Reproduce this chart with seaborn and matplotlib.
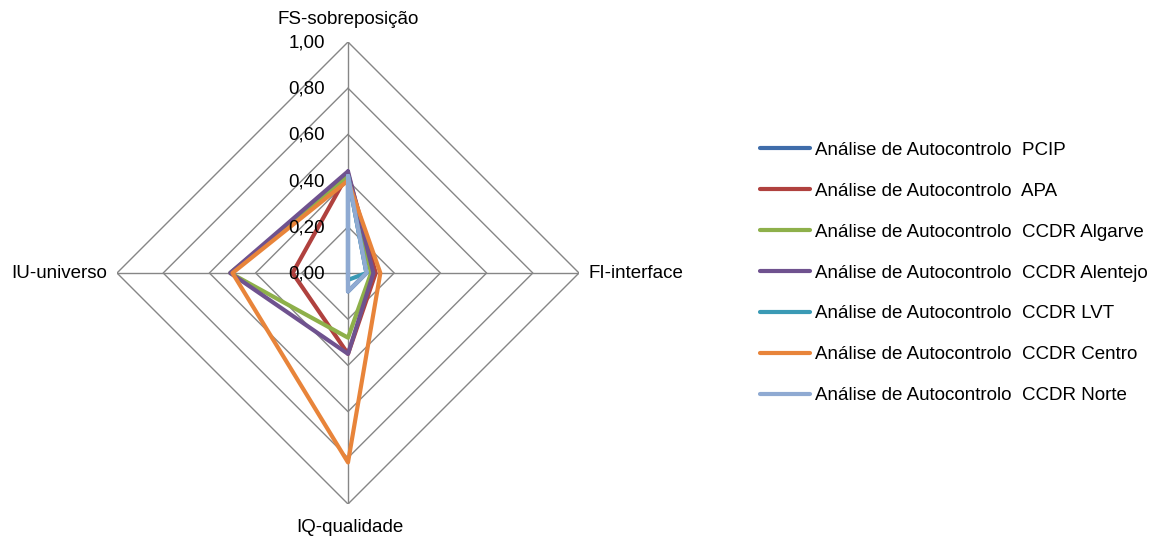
import numpy as np
import pandas as pd
import matplotlib
matplotlib.use("Agg")
import matplotlib.pyplot as plt
import matplotlib.transforms as mtransforms
import seaborn as sns

# Radar axes (clockwise from the top)
categories = ["FS-sobreposição", "FI-interface", "IQ-qualidade", "IU-universo"]
tick_values = [0.0, 0.2, 0.4, 0.6, 0.8, 1.0]
tick_labels = ["0,00", "0,20", "0,40", "0,60", "0,80", "1,00"]

series_names = [
    "Análise de Autocontrolo  PCIP",
    "Análise de Autocontrolo  APA",
    "Análise de Autocontrolo  CCDR Algarve",
    "Análise de Autocontrolo  CCDR Alentejo",
    "Análise de Autocontrolo  CCDR LVT",
    "Análise de Autocontrolo  CCDR Centro",
    "Análise de Autocontrolo  CCDR Norte",
]

# Scores per indicator: FS, FI, IQ, IU
pcip = [0.42, 0.08, 0.08, 0.00]
apa = [0.43, 0.12, 0.35, 0.24]
algarve = [0.42, 0.10, 0.28, 0.51]
alentejo = [0.44, 0.11, 0.35, 0.51]
lvt = [0.42, 0.08, 0.03, 0.00]
centro = [0.40, 0.14, 0.82, 0.50]
norte = [0.42, 0.08, 0.08, 0.00]

series_values = [pcip, apa, algarve, alentejo, lvt, centro, norte]
colors = ["#3F6DAA", "#B0413E", "#8EB04A", "#6F528F", "#3A9AB5", "#E8843A", "#8FAAD2"]

sns.set_theme(style="white")
plt.rcParams["font.family"] = ["Liberation Sans", "DejaVu Sans"]
plt.rcParams["text.color"] = "black"

W, H = 1153, 539
fig = plt.figure(figsize=(W / 100, H / 100), dpi=100)
cx, cy, R = 348, 273, 231
ax = fig.add_axes([(cx - R) / W, (H - cy - R) / H, 2 * R / W, 2 * R / H],
                  projection="polar")
ax.set_theta_zero_location("N")
ax.set_theta_direction(-1)
ax.set_ylim(0, 1)
ax.grid(False)
ax.spines["polar"].set_visible(False)
ax.set_xticks([])
ax.set_yticks([])
ax.set_facecolor("none")

angles = np.linspace(0, 2 * np.pi, len(categories), endpoint=False)
closed_angles = np.append(angles, 2 * np.pi)

# Diamond-shaped grid and spokes
grid_color = "#868686"
for lvl in tick_values[1:]:
    ax.plot(closed_angles, [lvl] * len(closed_angles), color=grid_color, lw=1.0, zorder=1)
for a in angles:
    ax.plot([a, a], [0, 1], color=grid_color, lw=1.0, zorder=1)

# Long-form table of the closed polygons
rows = []
for name, vals in zip(series_names, series_values):
    closed = list(vals) + [vals[0]]
    for order, (t, v) in enumerate(zip(closed_angles, closed)):
        rows.append({"serie": name, "theta": t, "valor": v, "ordem": order})
df = pd.DataFrame(rows)

sns.lineplot(data=df, x="theta", y="valor", hue="serie", hue_order=series_names,
             palette=dict(zip(series_names, colors)), sort=False, estimator=None,
             linewidth=3, ax=ax, zorder=3)
for ln in ax.get_lines()[-len(series_names):]:
    ln.set_solid_joinstyle("miter")
ax.set_xlabel("")
ax.set_ylabel("")
ax.set_ylim(0, 1)
handles, labels = ax.get_legend_handles_labels()
if ax.get_legend() is not None:
    ax.get_legend().remove()

# Radial tick labels along the top spoke
fs = 13.5
lab_tr = mtransforms.offset_copy(ax.transData, fig=fig, x=-23, y=-1, units="dots")
for v, lab in zip(tick_values, tick_labels):
    ax.text(0, v, lab, transform=lab_tr, ha="right", va="center", fontsize=fs,
            color="black", zorder=4)

# Axis names
fig.text(348 / W, 1 - 19 / H, categories[0], ha="center", va="center", fontsize=fs)
fig.text(588 / W, 1 - 274 / H, categories[1], ha="left", va="center", fontsize=fs)
fig.text(350 / W, 1 - 527 / H, categories[2], ha="center", va="center", fontsize=fs)
fig.text(107 / W, 1 - 274 / H, categories[3], ha="right", va="center", fontsize=fs)

for h in handles:
    h.set_linewidth(3)
    h.set_solid_capstyle("round")
fig.legend(handles, labels, loc="center left", bbox_to_anchor=(760 / W, 1 - 273 / H),
           frameon=False, fontsize=fs, handlelength=2.65, handletextpad=0.3,
           labelspacing=1.27, borderpad=0, borderaxespad=0, labelcolor="black")

fig.savefig("out.png", dpi=100)
